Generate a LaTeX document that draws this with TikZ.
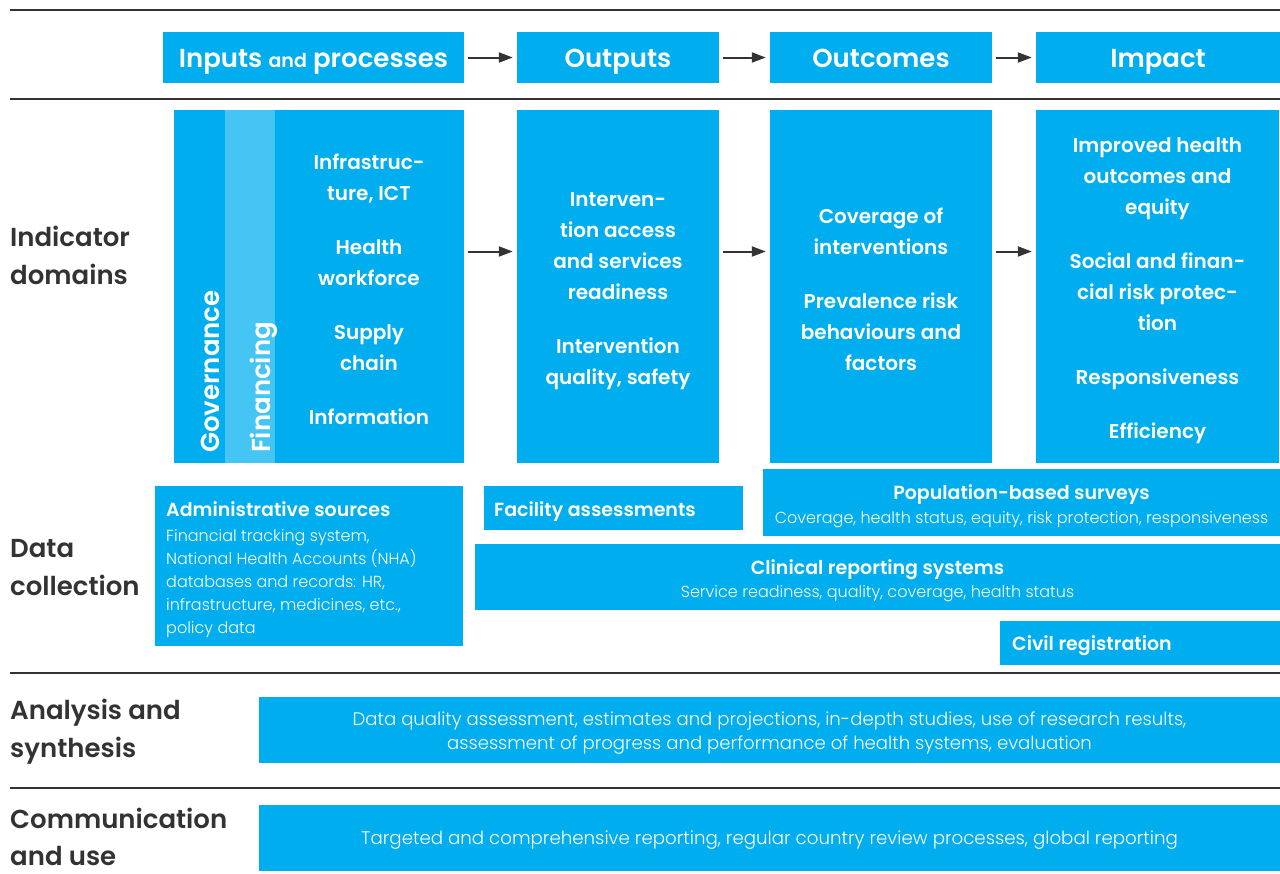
\documentclass[tikz,border=0pt]{standalone}
\usepackage{fontspec}
\setmainfont{Poppins}
\newfontfamily\fsemi{Poppins SemiBold}
\newfontfamily\flight{Poppins Light}
\usetikzlibrary{arrows.meta}
\definecolor{wblue}{HTML}{00AEEF}
\definecolor{wlight}{HTML}{45C5F3}
\definecolor{wgray}{HTML}{333333}
\tikzset{
  box/.style={fill=wblue, draw=none, inner sep=0pt},
  lightbox/.style={fill=wlight, draw=none, inner sep=0pt},
  sep/.style={draw=wgray, line width=2pt},
  arr/.style={draw=wgray, line width=2pt, -{Triangle[length=14pt,width=10pt]}},
  head/.style={text=white, anchor=base, font={\fsemi\fontsize{26}{30}\selectfont}, inner sep=0pt},
  dom/.style={text=white, align=center, font={\fsemi\fontsize{20}{31}\selectfont}, inner sep=0pt},
  side/.style={text=wgray, align=left, anchor=west, font={\fsemi\fontsize{26}{38}\selectfont}, inner sep=0pt},
  ttl/.style={text=white, anchor=base, font={\fsemi\fontsize{19}{24}\selectfont}, inner sep=0pt},
  sub/.style={text=white, anchor=base, font={\flight\fontsize{16}{23}\selectfont}, inner sep=0pt},
  vert/.style={text=white, rotate=90, anchor=west, font={\fsemi\fontsize{26}{30}\selectfont}, inner sep=0pt}
}
\begin{document}
\begin{tikzpicture}[x=1pt,y=-1pt]
\useasboundingbox (0,0) rectangle (1280,873);
% separators
\draw[sep] (10,10) -- (1280,10);
\draw[sep] (10,99) -- (1280,99);
\draw[sep] (10,673) -- (1280,673);
\draw[sep] (10,788) -- (1280,788);
% header boxes
\node[box, minimum width=301pt, minimum height=51pt] (h1) at (313.5,57.5) {};
\node[box, minimum width=202pt, minimum height=51pt] (h2) at (618,57.5) {};
\node[box, minimum width=222pt, minimum height=51pt] (h3) at (881,57.5) {};
\node[box, minimum width=244pt, minimum height=51pt] (h4) at (1158,57.5) {};
\node[head] (h1t) at (313.5,67) {Inputs {\fontsize{19}{22}\selectfont and} processes};
\node[head] (h2t) at (618,67) {Outputs};
\node[head] (h3t) at (881,67) {Outcomes};
\node[head] (h4t) at (1158,67) {Impact};
\draw[arr] ([xshift=4pt]h1.east) -- ([xshift=-4pt]h2.west);
\draw[arr] ([xshift=4pt]h2.east) -- ([xshift=-4pt]h3.west);
\draw[arr] ([xshift=4pt]h3.east) -- ([xshift=-4pt]h4.west);
% indicator domain boxes
\node[box, minimum width=290pt, minimum height=353pt] (d1) at (318.5,286.5) {};
\node[lightbox, minimum width=50pt, minimum height=353pt] (fin) at (250,286.5) {};
\node[box, minimum width=202pt, minimum height=353pt] (d2) at (618,286.5) {};
\node[box, minimum width=222pt, minimum height=353pt] (d3) at (881,286.5) {};
\node[box, minimum width=243pt, minimum height=353pt] (d4) at (1157.5,286.5) {};
\node[vert] (gov) at (210,453) {Governance};
\node[vert] (fint) at (264,453) {Financing};
\node[dom] (d1t) at (369,289) {Infrastruc-\\ture, ICT\\[23pt]Health\\workforce\\[23pt]Supply\\chain\\[23pt]Information};
\node[dom] (d2t) at (618,291) {Interven-\\tion access\\and services\\readiness\\[23pt]Intervention\\quality, safety};
\node[dom] (d3t) at (881,289) {Coverage of\\interventions\\[23pt]Prevalence risk\\behaviours and\\factors};
\node[dom] (d4t) at (1157.5,291) {Improved health\\outcomes and\\equity\\[23pt]Social and finan-\\cial risk protec-\\tion\\[23pt]Responsiveness\\[23pt]Efficiency};
\draw[arr] ([xshift=4pt,yshift=35pt]d1.east) -- ([xshift=-4pt,yshift=35pt]d2.west);
\draw[arr] ([xshift=4pt,yshift=35pt]d2.east) -- ([xshift=-4pt,yshift=35pt]d3.west);
\draw[arr] ([xshift=4pt,yshift=35pt]d3.east) -- ([xshift=-4pt,yshift=35pt]d4.west);
% data collection
\node[box, minimum width=308pt, minimum height=160pt] (adm) at (309,566) {};
\node[ttl, anchor=base west] (admt) at (166,516) {Administrative sources};
\node[sub, anchor=north west, align=left] (adms) at (166,529) {Financial tracking system,\\National Health Accounts (NHA)\\databases and records: HR,\\infrastructure, medicines, etc.,\\policy data};
\node[box, minimum width=259pt, minimum height=44pt] (fac) at (613.5,508) {};
\node[ttl, anchor=base west] (fact) at (494,516) {Facility assessments};
\node[box, minimum width=517pt, minimum height=67pt] (pop) at (1021.5,502.5) {};
\node[ttl] (popt) at (1021.5,499) {Population-based surveys};
\node[sub] (pops) at (1021.5,523.5) {Coverage, health status, equity, risk protection, responsiveness};
\node[box, minimum width=805pt, minimum height=66pt] (cli) at (877.5,577) {};
\node[ttl] (clit) at (877.5,574) {Clinical reporting systems};
\node[sub] (clis) at (877.5,597.5) {Service readiness, quality, coverage, health status};
\node[box, minimum width=280pt, minimum height=44pt] (civ) at (1140,643) {};
\node[ttl, anchor=base west] (civt) at (1012,650) {Civil registration};
% analysis & communication
\node[box, minimum width=1021pt, minimum height=66pt] (ana) at (769.5,730) {};
\node[sub, anchor=center, align=center, font={\flight\fontsize{18.1}{24}\selectfont}] (anat) at (769.5,733) {Data quality assessment, estimates and projections, in-depth studies, use of research results,\\assessment of progress and performance of health systems, evaluation};
\node[box, minimum width=1021pt, minimum height=66pt] (com) at (769.5,838) {};
\node[sub, anchor=center, font={\flight\fontsize{18.2}{24}\selectfont}] (comt) at (769.5,840) {Targeted and comprehensive reporting, regular country review processes, global reporting};
% side labels
\node[side] (l1) at (10,255) {Indicator\\domains};
\node[side] (l2) at (10,568) {Data\\collection};
\node[side] (l3) at (10,732) {Analysis and\\synthesis};
\node[side, font={\fsemi\fontsize{26}{37}\selectfont}] (l4) at (10,837) {Communication\\and use};
\end{tikzpicture}
\end{document}
